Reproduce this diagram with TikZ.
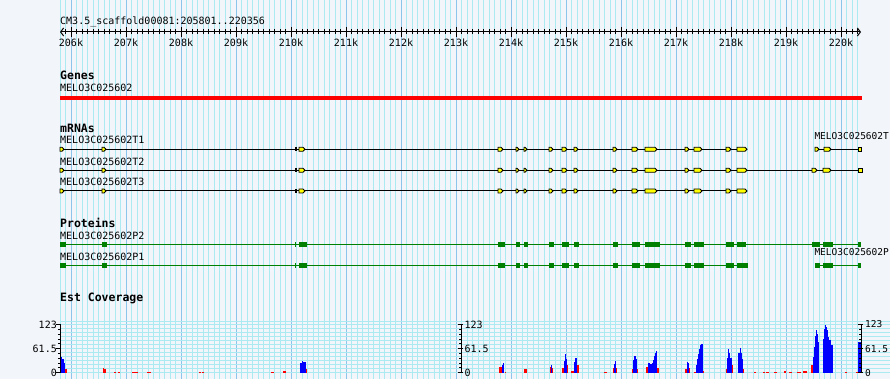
\documentclass[tikz,border=0pt]{standalone}
\usepackage{fontspec}
\setmonofont{DejaVu Sans Mono}
\usepackage{tikz}
\usetikzlibrary{arrows.meta}
\definecolor{gbback}{RGB}{242,245,250}
\definecolor{gbgrid}{RGB}{170,234,240}
\definecolor{gbmajor}{RGB}{140,196,236}
\definecolor{gbred}{RGB}{255,0,0}
\definecolor{gbyellow}{RGB}{255,255,0}
\definecolor{gbgreen}{RGB}{0,128,0}
\definecolor{gbblue}{RGB}{0,0,255}
\tikzstyle{tracktext} = [inner sep=0pt, anchor=base west, font=\ttfamily\fontsize{10}{12}\selectfont]
\tikzstyle{edgetext} = [tracktext, font=\ttfamily\fontsize{9.5}{12}\selectfont]
\tikzstyle{trackhead} = [tracktext, font=\ttfamily\bfseries\fontsize{11.5}{13}\selectfont]
\tikzstyle{tickno} = [tracktext, anchor=base]
\tikzstyle{gridline} = [gbgrid, line width=1pt]
\tikzstyle{gridmajor} = [gbmajor, line width=1pt]
\tikzstyle{intron} = [black, line width=1pt]
\tikzstyle{protline} = [gbgreen, line width=1pt]
\tikzstyle{exon} = [draw=black, fill=gbyellow, line width=0.8pt]
\tikzstyle{cds} = [fill=gbgreen]
\newcommand{\mrnaexon}[3]{\draw[exon] (#1,#3-2) -- (#2-2,#3-2) -- (#2,#3) -- (#2-2,#3+2) -- (#1,#3+2) -- cycle;}
\newcommand{\protbox}[3]{\fill[cds] (#1,#3-2.5) rectangle (#2,#3+2.5);}

\begin{document}
\begin{tikzpicture}[x=1pt, y=-1pt]
% Canvas
\fill[gbback] (0,0) rectangle (890,379);
\clip (0,0) rectangle (890,379);

% Grid, every 100 bp
\foreach \i in {-2,...,143} {\draw[gridline] ({71+5.5*\i},0) -- ({71+5.5*\i},379);}
\foreach \k in {0,...,14} {\draw[gridmajor] ({71+55*\k},0) -- ({71+55*\k},379);}
\foreach \j in {0,...,12} {\draw[gridline] (60,{324.5+4*\j}) -- (890,{324.5+4*\j});}
\draw[gridline] (60,321.5) -- (890,321.5);

% Ruler
\node[tracktext] (title) at (60,25) {CM3.5\_scaffold00081:205801..220356};
\coordinate (rulerL) at (60,32);
\coordinate (rulerR) at (861,32);
\draw[line width=1pt, {Straight Barb[length=3pt,width=8pt]}-{Straight Barb[length=3pt,width=8pt]}] (rulerL) -- (rulerR);
\foreach \i in {-1,...,143} {\draw[line width=0.8pt] ({71+5.5*\i},29.5) -- ({71+5.5*\i},34.5);}
\foreach \k [evaluate=\k as \kx using 71+55*\k, evaluate=\k as \kb using int(206+\k)] in {0,...,14} {
  \draw[line width=1pt] (\kx,27) -- (\kx,37);
  \node[tickno] (tick\k) at (\kx,46.7) {\kb k};
}

% Genes
\node[trackhead] (genes) at (60,80) {Genes};
\node[tracktext] (gene) at (60,92) {MELO3C025602};
\fill[gbred] (60,95.7) rectangle (862,100.2);

% mRNAs
\node[trackhead] (mrnas) at (60,132.3) {mRNAs};
\node[tracktext] (t1) at (60,144) {MELO3C025602T1};
\node[tracktext] (t2) at (60,165.3) {MELO3C025602T2};
\node[tracktext] (t3) at (60,186) {MELO3C025602T3};
\node[edgetext] (t4) at (814.3,139.5) {MELO3C025602T};
\draw[intron] (60,149.3) -- (747,149.3);
\draw[intron] (815,149.3) -- (861,149.3);
\draw[intron] (60,170.3) -- (862,170.3);
\draw[intron] (60,191) -- (747,191);
\foreach \y in {149.3,170.3,191} {
  \fill[black] (294.5,\y-2) rectangle (296.5,\y+2);
  \foreach \a/\b in {60/64, 102/106, 299/305, 498/503, 516/519, 524/527, 549/553, 562/567, 574/578,
                     613/617, 632/638, 645/657, 685/689, 694/702, 726/731, 737/747}
    {\mrnaexon{\a}{\b}{\y}}
}
\mrnaexon{815}{819}{149.3} \mrnaexon{824}{831}{149.3}
\draw[exon] (858,147.3) rectangle (861,151.3);
\mrnaexon{812}{817}{170.3} \mrnaexon{823}{831}{170.3}
\draw[exon] (858.5,168.3) rectangle (862,172.3);

% Proteins
\node[trackhead] (proteins) at (60,227.3) {Proteins};
\node[tracktext] (p2) at (60,239) {MELO3C025602P2};
\node[tracktext] (p1) at (60,260) {MELO3C025602P1};
\node[edgetext] (p3) at (814.3,255.5) {MELO3C025602P};
\draw[protline] (60,244.7) -- (861,244.7);
\draw[protline] (60,265.3) -- (748,265.3);
\draw[protline] (815,265.3) -- (861,265.3);
\foreach \y in {244.7,265.3} {
  \foreach \a/\b in {60/66, 102/107, 294.7/296.2, 299/307, 498/505, 516/520, 524/528, 549/554, 562/569,
                     574/579, 613/618, 632/640, 645/660, 685/691, 694/704, 726/734, 823/833, 858.3/861}
    {\protbox{\a}{\b}{\y}}
}
\protbox{737}{746}{244.7} \protbox{812}{820}{244.7}
\protbox{737}{748}{265.3} \protbox{815}{820}{265.3}

% Est Coverage
\node[trackhead] (estcov) at (60,301) {Est Coverage};
\foreach \a/\b/\h in {65/66.5/4, 103/104/5, 104/106/4, 114/116/1.2, 117.7/120/1.2, 132/138/1.2, 147/151/1.2,
                      199/201/1.2, 202/204/1.2, 271/274/1.2, 283/286/2, 306/307.3/4,
                      499/501.7/6, 505/506/1.2, 524/527/4, 550/550.8/6, 552/553/5, 561.7/564/5, 567/568.3/8,
                      571/574/1.5, 576.7/578.7/8, 603.7/607/1.2, 613/614/5, 616/617/5, 631.7/633/4, 637/638.3/4,
                      645.7/647.7/6, 657/659/5, 685/686.7/4, 689/690/5, 694/696/1.2, 702.7/704.3/2,
                      726/727/4, 731.7/733/8, 742.7/744/4, 754/756/1.2, 762.7/764.7/1.2, 765.7/769/1.2,
                      774/777/1.2, 784/786.3/2, 789/791.7/1.2, 796.7/800.7/1.2, 803/807.3/2, 810.7/812.7/8,
                      845/846.7/1.2, 855.7/858.3/1.2}
  {\fill[gbred] (\a,372.7) rectangle (\b,372.7-\h);}
\foreach \a/\b/\h in {60.5/62/16, 62/63.5/14, 63.5/65/10, 300/301.5/10, 301.5/303/12, 303/304.5/11, 304.5/306/11,
                      501.7/503/8, 503/504.3/10, 550.8/552/8, 564/565/12, 565/566/19, 566/567/14,
                      574/575.3/11, 575.3/576.7/15, 614/615/9, 615/616/12, 633/634.3/13, 634.3/635.7/17, 635.7/637/14,
                      647.7/649.5/10, 649.5/651.5/9, 651.5/653/10, 653/654/13, 654/655/17, 655/656/20, 656/657/22,
                      686.7/688/11, 688/689/10, 696/697/8, 697/698/14, 698/699/19, 699/700/24, 700/701/28, 701/702.7/29,
                      727/728/15, 728/729/24, 729/730/20, 730/731.7/15, 738/739.5/20, 739.5/740.5/25, 740.5/741.5/20,
                      741.5/742.7/14, 812.7/813.7/16, 813.7/814.7/26, 814.7/815.7/37, 815.7/816.7/43, 816.7/817.7/39,
                      817.7/818.5/31, 822.7/824/34, 824/825/44, 825/826/48, 826/827/46, 827/828/43, 828/829.3/36,
                      829.3/830.7/33, 830.7/832.7/28, 858.3/860.7/31}
  {\fill[gbblue] (\a,372.7) rectangle (\b,372.7-\h);}

% Coverage axes
\foreach \ax in {60.3,461.7,861.7} {
  \draw[line width=1pt] (\ax,324.5) -- (\ax,372.7);
  \foreach \v in {0,...,10} {\draw[line width=0.8pt] (\ax-2.5,{372.7-4.82*\v}) -- (\ax,{372.7-4.82*\v});}
  \foreach \v in {324.5,348.6,372.7} {\draw[line width=1pt] (\ax-4,\v) -- (\ax+1,\v);}
}
\node[tracktext, anchor=east] (lmax) at (57,324.5) {123};
\node[tracktext, anchor=east] (lmid) at (57,348.6) {61.5};
\node[tracktext, anchor=east] (lmin) at (57,372.7) {0};
\node[tracktext, anchor=west] (mmax) at (464.3,324.5) {123};
\node[tracktext, anchor=west] (mmid) at (464.3,348.6) {61.5};
\node[tracktext, anchor=west] (mmin) at (464.3,372.7) {0};
\node[edgetext, anchor=west] (rmax) at (865,324.5) {123};
\node[edgetext, anchor=west] (rmid) at (865,348.6) {61.5};
\node[edgetext, anchor=west] (rmin) at (865,372.7) {0};
\end{tikzpicture}
\end{document}
